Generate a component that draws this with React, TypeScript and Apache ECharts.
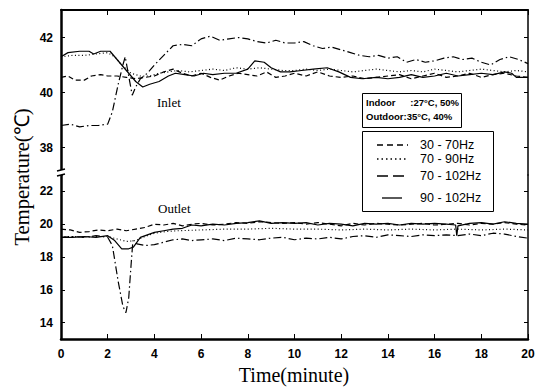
import React, { useEffect, useRef } from "react";
import * as echarts from "echarts";

// Tick positions of the two halves of the broken temperature axis
const inletTicks = [38, 40, 42];
const outletTicks = [14, 16, 18, 20, 22];

const legendNames = ["30 - 70Hz", "70 - 90Hz", "70 - 102Hz", "90 - 102Hz"];

// Inlet temperatures [minute, °C]
const inlet30to70 = [
  [0, 40.55], [0.3, 40.6], [0.6, 40.45], [1.0, 40.45], [1.3, 40.6], [1.7, 40.65], [2.0, 40.6],
  [2.4, 40.6], [2.8, 40.55], [3.2, 40.5], [3.6, 40.55], [4.0, 40.6], [4.4, 40.75], [4.8, 40.85],
  [5.2, 40.7], [5.6, 40.6], [6.0, 40.7], [6.4, 40.55], [6.8, 40.45], [7.2, 40.6], [7.6, 40.7],
  [8.0, 40.65], [8.4, 40.6], [8.8, 40.75], [9.2, 40.55], [9.6, 40.6], [10, 40.7], [10.5, 40.6],
  [11, 40.75], [11.5, 40.6], [12, 40.55], [12.5, 40.6], [13, 40.5], [13.5, 40.55], [14, 40.6],
  [14.5, 40.65], [15, 40.5], [15.5, 40.6], [16, 40.7], [16.5, 40.55], [17, 40.6], [17.5, 40.7],
  [18, 40.55], [18.5, 40.65], [19, 40.7], [19.5, 40.6], [20, 40.55],
];
const inlet70to90 = [
  [0, 41.3], [0.5, 41.35], [1, 41.35], [1.5, 41.4], [2, 41.45], [2.3, 41.3], [2.6, 41.0],
  [3.0, 40.7], [3.4, 40.6], [3.8, 40.6], [4.2, 40.7], [4.6, 40.75], [5, 40.8], [5.5, 40.75],
  [6, 40.8], [6.5, 40.85], [7, 40.8], [7.5, 40.9], [8, 40.85], [8.5, 40.9], [9, 40.85],
  [9.5, 40.8], [10, 40.8], [10.5, 40.85], [11, 40.8], [11.5, 40.85], [12, 40.8], [12.5, 40.75],
  [13, 40.8], [13.5, 40.85], [14, 40.8], [14.5, 40.75], [15, 40.8], [15.5, 40.75], [16, 40.85],
  [16.5, 40.8], [17, 40.75], [17.5, 40.8], [18, 40.85], [18.5, 40.8], [19, 40.75], [19.5, 40.8],
  [20, 40.75],
];
const inlet70to102 = [
  [0, 38.8], [0.4, 38.85], [0.8, 38.75], [1.2, 38.8], [1.6, 38.8], [2.0, 38.85], [2.2, 39.3],
  [2.45, 40.3], [2.65, 41.0], [2.75, 41.3], [2.9, 40.6], [3.05, 39.9], [3.2, 40.2], [3.4, 40.5],
  [3.7, 40.7], [4.0, 41.0], [4.4, 41.35], [4.8, 41.7], [5.2, 41.75], [5.6, 41.7], [6.0, 41.95],
  [6.4, 42.05], [6.8, 41.9], [7.2, 41.95], [7.6, 42.0], [8.0, 41.95], [8.4, 41.85], [8.8, 41.8],
  [9.2, 41.9], [9.6, 41.8], [10, 41.8], [10.4, 41.85], [10.8, 41.7], [11.2, 41.6], [11.6, 41.65],
  [12, 41.55], [12.4, 41.45], [12.8, 41.35], [13.2, 41.3], [13.6, 41.35], [14, 41.25],
  [14.4, 41.3], [14.8, 41.1], [15.2, 41.2], [15.6, 41.1], [16, 41.15], [16.4, 41.25],
  [16.8, 41.3], [17.2, 41.2], [17.6, 41.25], [18, 41.1], [18.4, 41.0], [18.8, 41.2],
  [19.2, 41.3], [19.6, 41.2], [20, 41.05],
];
const inlet90to102 = [
  [0, 41.3], [0.3, 41.45], [0.8, 41.5], [1.2, 41.5], [1.4, 41.4], [1.7, 41.5], [2.1, 41.5],
  [2.4, 41.2], [2.8, 40.8], [3.2, 40.4], [3.5, 40.2], [3.8, 40.3], [4.2, 40.4], [4.6, 40.6],
  [4.9, 40.7], [5.3, 40.65], [5.7, 40.6], [6.1, 40.7], [6.5, 40.65], [7.0, 40.7], [7.5, 40.7],
  [8.0, 40.85], [8.3, 41.15], [8.7, 41.1], [9.0, 40.9], [9.4, 40.75], [9.8, 40.75], [10.3, 40.8],
  [10.8, 40.85], [11.4, 40.9], [11.9, 40.75], [12.4, 40.55], [12.9, 40.5], [13.5, 40.55],
  [14.0, 40.5], [14.5, 40.55], [15, 40.65], [15.5, 40.55], [16, 40.6], [16.5, 40.7], [17, 40.6],
  [17.5, 40.65], [18, 40.7], [18.5, 40.65], [19, 40.75], [19.3, 40.7], [19.5, 40.55], [20, 40.55],
];

// Outlet temperatures [minute, °C]
const outlet30to70 = [
  [0, 19.7], [0.4, 19.65], [0.8, 19.5], [1.2, 19.55], [1.6, 19.65], [2.0, 19.6], [2.4, 19.7],
  [2.8, 19.6], [3.2, 19.7], [3.6, 19.8], [4.0, 20.0], [4.4, 19.95], [4.8, 20.05], [5.2, 19.9],
  [5.6, 20.0], [6.0, 20.05], [6.5, 19.95], [7, 20.0], [7.5, 20.1], [8, 20.05], [8.5, 20.15],
  [9, 20.1], [9.5, 20.05], [10, 20.1], [10.5, 20.0], [11, 20.1], [11.5, 20.0], [12, 19.9],
  [12.5, 20.05], [13, 19.95], [13.5, 20.05], [14, 20.0], [14.5, 19.95], [15, 20.0], [15.5, 20.05],
  [16, 19.95], [16.5, 20.0], [17, 20.05], [17.5, 19.95], [18, 20.05], [18.5, 20.0], [19, 20.1],
  [19.5, 20.0], [20, 19.95],
];
const outlet70to90 = [
  [0, 19.25], [0.5, 19.25], [1, 19.2], [1.5, 19.25], [2, 19.25], [2.4, 19.1], [2.8, 18.95],
  [3.2, 19.0], [3.6, 19.25], [4, 19.45], [4.5, 19.55], [5, 19.6], [6, 19.65], [7, 19.7],
  [8, 19.7], [9, 19.75], [10, 19.7], [11, 19.7], [12, 19.65], [13, 19.7], [14, 19.65],
  [15, 19.7], [16, 19.65], [17, 19.7], [18, 19.65], [19, 19.7], [20, 19.65],
];
const outlet70to102 = [
  [0, 19.2], [0.5, 19.25], [1, 19.2], [1.5, 19.3], [2.0, 19.2], [2.2, 18.7], [2.45, 16.5],
  [2.65, 15.0], [2.78, 14.6], [2.9, 15.5], [3.0, 17.5], [3.08, 19.0], [3.25, 18.8], [3.6, 18.7],
  [4.0, 18.75], [4.4, 18.9], [4.8, 19.05], [5.2, 19.1], [5.6, 19.0], [6.0, 19.05], [6.5, 19.1],
  [7, 19.0], [7.5, 19.15], [8, 19.1], [8.5, 19.05], [9, 19.15], [9.5, 19.2], [10, 19.05],
  [10.5, 19.15], [11, 19.1], [11.5, 19.2], [12, 19.1], [12.5, 19.25], [13, 19.3], [13.5, 19.2],
  [14, 19.35], [14.5, 19.3], [15, 19.25], [15.5, 19.35], [16, 19.3], [16.5, 19.35], [17, 19.3],
  [17.5, 19.4], [18, 19.3], [18.5, 19.45], [19, 19.4], [19.5, 19.25], [20, 19.15],
];
const outlet90to102 = [
  [0, 19.2], [0.5, 19.2], [1, 19.25], [1.5, 19.2], [2.0, 19.3], [2.3, 19.0], [2.6, 18.5],
  [2.9, 18.5], [3.1, 18.6], [3.4, 19.2], [3.7, 19.35], [4.0, 19.5], [4.4, 19.6], [4.8, 19.7],
  [5.2, 19.75], [5.6, 19.95], [6, 19.9], [6.5, 20.0], [7, 19.95], [7.5, 20.05], [8, 20.1],
  [8.5, 20.2], [9, 20.05], [9.5, 20.1], [10, 20.05], [10.5, 20.1], [11, 19.95], [11.5, 20.05],
  [12, 20.0], [12.5, 19.9], [13, 20.05], [13.5, 20.0], [14, 20.05], [14.5, 19.95], [15, 20.05],
  [15.5, 20.0], [16, 20.05], [16.5, 20.0], [16.9, 19.95], [16.95, 19.3], [17.0, 19.9],
  [17.5, 20.05], [18, 20.1], [18.5, 20.0], [19, 20.15], [19.5, 20.05], [20, 20.0],
];

const dashStyles: (number[] | "solid")[] = [[5, 3], [1, 2.5], [8, 3, 1.5, 3], "solid"];
const legendDash: (number[] | null)[] = [[6, 4], [1.5, 3], [11, 5], null];

const SERIF = '"Liberation Serif", "Times New Roman", serif';
const SANS = '"Liberation Sans", Arial, sans-serif';

const PLOT_LEFT = 61;
const PLOT_WIDTH = 467;
const UPPER_TOP = 10;
const UPPER_H = 165;
const LOWER_TOP = 175;
const LOWER_H = 164;

export default function App() {
  const ref = useRef<HTMLDivElement>(null);

  useEffect(() => {
    if (!ref.current) return;
    const chart = echarts.init(ref.current, null, { renderer: "svg" });

    const tickLabel = { fontFamily: SANS, fontWeight: "bold" as const, fontSize: 12, color: "#000" };

    const yAxisFor = (gridIndex: number, min: number, max: number, ticks: number[], right: boolean) => ({
      type: "value" as const,
      gridIndex,
      min,
      max,
      position: right ? ("right" as const) : ("left" as const),
      axisLine: { show: true, lineStyle: { color: "#000", width: right ? 1.5 : 2.5 } },
      axisTick: { show: true, inside: true, length: 4, customValues: ticks, lineStyle: { color: "#000", width: 1 } },
      axisLabel: right
        ? { show: false }
        : { show: true, margin: 8, customValues: ticks, ...tickLabel },
      splitLine: { show: false },
    });

    const groups = [
      [inlet30to70, inlet70to90, inlet70to102, inlet90to102],
      [outlet30to70, outlet70to90, outlet70to102, outlet90to102],
    ];

    const series: any[] = [];
    groups.forEach((group, g) => {
      group.forEach((data, i) => {
        series.push({
          type: "line",
          name: legendNames[i],
          xAxisIndex: g,
          yAxisIndex: g * 2,
          data,
          showSymbol: false,
          smooth: false,
          lineStyle: { color: "#000", width: 1.2, type: dashStyles[i] },
          z: 3,
        });
      });
    });

    // Legend drawn as a boxed key
    const legendRows = [145, 159, 176, 198];
    const legendEls: any[] = [
      {
        type: "rect",
        shape: { x: 362.5, y: 131.5, width: 131, height: 80 },
        style: { fill: "#fff", stroke: "#000", lineWidth: 1 },
        z: 10,
      },
    ];
    legendNames.forEach((name, i) => {
      const y = legendRows[i];
      const dash = legendDash[i];
      legendEls.push({
        type: "line",
        shape: dash ? { x1: 377, y1: y, x2: 408, y2: y } : { x1: 382, y1: y, x2: 402, y2: y },
        style: { stroke: "#000", lineWidth: 1.3, lineDash: dash || undefined },
        z: 11,
      });
      legendEls.push({
        type: "text",
        x: 420,
        y,
        style: { text: name, font: `12.5px ${SANS}`, fill: "#000", textVerticalAlign: "middle" },
        z: 11,
      });
    });

    chart.setOption({
      animation: false,
      backgroundColor: "#fff",
      grid: [
        { left: PLOT_LEFT, top: UPPER_TOP, width: PLOT_WIDTH, height: UPPER_H },
        { left: PLOT_LEFT, top: LOWER_TOP, width: PLOT_WIDTH, height: LOWER_H },
      ],
      xAxis: [
        {
          type: "value",
          gridIndex: 0,
          min: 0,
          max: 20,
          interval: 2,
          position: "top",
          axisLine: { show: true, lineStyle: { color: "#000", width: 2 } },
          axisTick: { show: true, inside: true, length: 5, lineStyle: { color: "#000", width: 1 } },
          axisLabel: { show: false },
          splitLine: { show: false },
        },
        {
          type: "value",
          gridIndex: 1,
          min: 0,
          max: 20,
          interval: 2,
          position: "bottom",
          axisLine: { show: true, lineStyle: { color: "#000", width: 2.5 } },
          axisTick: { show: true, inside: true, length: 5, lineStyle: { color: "#000", width: 1 } },
          axisLabel: { show: true, margin: 9, ...tickLabel },
          splitLine: { show: false },
        },
      ],
      yAxis: [
        yAxisFor(0, 37, 43, inletTicks, false),
        yAxisFor(0, 37, 43, inletTicks, true),
        yAxisFor(1, 13, 23, outletTicks, false),
        yAxisFor(1, 13, 23, outletTicks, true),
      ],
      series,
      graphic: [
        // break mark on the temperature axis
        {
          type: "rect",
          shape: { x: 58, y: 170, width: 7, height: 5 },
          style: { fill: "#fff" },
          z: 20,
        },
        {
          type: "line",
          shape: { x1: 57, y1: 171, x2: 65, y2: 169 },
          style: { stroke: "#000", lineWidth: 1.3 },
          z: 21,
        },
        {
          type: "line",
          shape: { x1: 57, y1: 176, x2: 65, y2: 174 },
          style: { stroke: "#000", lineWidth: 1.3 },
          z: 21,
        },
        {
          type: "text",
          x: 22,
          y: 177,
          rotation: Math.PI / 2,
          style: {
            text: "Temperature(℃)",
            font: `20.5px ${SERIF}`,
            fill: "#000",
            textAlign: "center",
            textVerticalAlign: "middle",
          },
        },
        {
          type: "text",
          x: 294,
          y: 375,
          style: {
            text: "Time(minute)",
            font: `20px ${SERIF}`,
            fill: "#000",
            textAlign: "center",
            textVerticalAlign: "middle",
          },
        },
        {
          type: "text",
          x: 157,
          y: 102,
          style: { text: "Inlet", font: `13px ${SERIF}`, fill: "#000", textVerticalAlign: "middle" },
        },
        {
          type: "text",
          x: 158,
          y: 208,
          style: { text: "Outlet", font: `13px ${SERIF}`, fill: "#000", textVerticalAlign: "middle" },
        },
        {
          type: "rect",
          shape: { x: 362.5, y: 93.5, width: 99, height: 34 },
          style: { fill: "#fff", stroke: "#000", lineWidth: 1 },
          z: 10,
        },
        {
          type: "text",
          x: 366,
          y: 102,
          style: { text: "Indoor", font: `bold 9.5px ${SANS}`, fill: "#000", textVerticalAlign: "middle" },
          z: 11,
        },
        {
          type: "text",
          x: 459,
          y: 102,
          style: {
            text: ":27°C, 50%",
            font: `bold 9.5px ${SANS}`,
            fill: "#000",
            textAlign: "right",
            textVerticalAlign: "middle",
          },
          z: 11,
        },
        {
          type: "text",
          x: 366,
          y: 116,
          style: { text: "Outdoor:35°C, 40%", font: `bold 9.5px ${SANS}`, fill: "#000", textVerticalAlign: "middle" },
          z: 11,
        },
        ...legendEls,
      ],
    });

    return () => chart.dispose();
  }, []);

  return (
    <div
      ref={ref}
      style={{ position: "absolute", left: 0, top: 0, width: 540, height: 387, background: "#fff" }}
    />
  );
}
